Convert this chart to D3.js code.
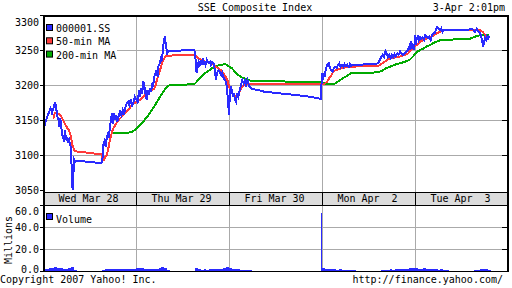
<!DOCTYPE html>
<html>
<head>
<meta charset="utf-8">
<script src="https://cdn.jsdelivr.net/npm/d3@7"></script>
<style>
  body { margin: 0; background: #fff; }
  svg { display: block; font-family: "DejaVu Sans Mono", monospace; font-size: 10px; }
  text { white-space: pre; }
</style>
</head>
<body>
<div id="chart"></div>
<script>
// time is counted in trading minutes from Wed 28 Mar 09:30, 330 minutes per day (09:30-15:00)
const days = ["Wed Mar 28", "Thu Mar 29", "Fri Mar 30", "Mon Apr  2", "Tue Apr  3"];
const yTicks = [3050, 3100, 3150, 3200, 3250, 3300];
const volTicks = [0, 20, 40, 60];

const sseIndex = [
  [1,3136],[4,3139],[11,3150],[15,3155],[22,3162],[27,3167],[32,3160],[37,3167],[43,3175],[46,3169],
  [51,3155],[56,3150],[58,3140],[60,3153],[64,3146],[67,3131],[72,3124],[75,3119],[78,3136],[82,3121],
  [86,3126],[90,3117],[93,3121],[97,3114],[99,3110],[102,3079],[104,3060],[105,3050],[108,3074],[111,3093],
  [115,3090],[120,3092],[143,3091],[167,3090],[191,3089],[208,3089],[212,3098],[215,3117],[219,3121],[222,3112],
  [226,3124],[230,3129],[233,3124],[238,3140],[241,3150],[245,3160],[247,3145],[251,3160],[254,3150],[259,3155],
  [264,3148],[269,3157],[273,3162],[278,3157],[283,3164],[287,3157],[292,3167],[297,3174],[302,3176],[306,3171],
  [311,3179],[316,3171],[320,3174],[326,3183],[332,3179],
  [336,3176],[341,3193],[344,3183],[348,3195],[352,3188],[356,3205],[359,3200],[364,3186],[368,3179],[371,3193],
  [376,3188],[380,3195],[383,3190],[388,3202],[391,3200],[395,3212],[400,3217],[403,3221],[407,3212],[409,3226],
  [414,3231],[418,3238],[421,3236],[426,3250],[428,3260],[430,3264],[433,3270],[435,3260],[439,3250],[441,3245],
  [445,3248],[480,3249],[510,3250],[537,3250],[539,3245],[543,3231],[545,3217],[549,3226],[552,3233],[556,3229],
  [560,3236],[563,3229],[567,3238],[570,3231],[574,3233],[577,3229],[581,3236],[584,3233],[589,3231],[593,3233],
  [596,3229],[601,3233],[606,3231],[610,3221],[614,3207],[617,3217],[622,3221],[627,3219],[632,3214],[636,3217],
  [641,3210],[646,3207],[649,3205],[653,3195],[656,3180],[660,3157],
  [663,3188],[667,3198],[671,3190],[674,3183],[678,3188],[681,3179],[685,3176],[688,3188],[693,3183],[698,3193],
  [703,3200],[707,3207],[712,3202],[717,3207],[721,3200],[726,3207],[731,3199],[736,3197],[740,3194],[764,3193],
  [788,3190],[823,3189],[859,3187],[894,3186],[930,3184],[953,3183],[986,3180],
  [990,3217],[992,3208],[996,3217],[999,3212],[1003,3221],[1005,3224],[1009,3229],[1014,3231],[1018,3224],[1023,3221],
  [1028,3219],[1032,3224],[1037,3226],[1042,3224],[1047,3229],[1051,3231],[1056,3226],[1061,3229],[1066,3226],[1070,3230],
  [1075,3227],[1080,3229],[1085,3226],[1089,3230],[1094,3227],[1099,3229],[1106,3229],[1129,3229],[1153,3230],[1177,3230],
  [1189,3231],[1196,3236],[1200,3240],[1205,3243],[1210,3240],[1215,3248],[1219,3245],[1224,3240],[1229,3243],[1234,3238],
  [1238,3243],[1243,3240],[1248,3244],[1252,3241],[1257,3245],[1262,3243],[1267,3248],[1271,3245],[1277,3243],[1283,3245],
  [1289,3248],[1295,3250],[1300,3255],[1303,3250],[1307,3262],[1310,3252],[1314,3257],[1317,3250],[1320,3271],[1322,3257],
  [1326,3267],[1330,3269],[1333,3264],[1338,3268],[1342,3266],[1347,3268],[1352,3264],[1356,3271],[1361,3269],[1366,3267],
  [1371,3269],[1376,3264],[1380,3271],[1385,3274],[1390,3274],[1394,3279],[1399,3283],[1404,3281],[1409,3279],[1413,3281],
  [1418,3276],[1423,3279],[1456,3278],[1491,3278],[1509,3279],[1521,3280],[1527,3279],[1533,3276],[1539,3280],[1545,3277],
  [1551,3274],[1555,3269],[1559,3262],[1562,3255],[1565,3260],[1568,3267],[1572,3264],[1575,3269],[1579,3266],[1582,3269],
  [1585,3268]
];

const ma50 = [
  [37,3152],[42,3160],[49,3160],[56,3159],[63,3156],[70,3151],[77,3145],[84,3140],[91,3136],[96,3131],
  [100,3124],[104,3114],[108,3110],[112,3106],[120,3105],[167,3103],[202,3101],[208,3101],[212,3095],[216,3093],
  [221,3098],[226,3100],[231,3107],[235,3117],[240,3126],[245,3133],[249,3138],[257,3143],[264,3148],[273,3152],
  [283,3156],[292,3160],[302,3164],[311,3169],[320,3173],[332,3176],[338,3177],[350,3181],[362,3186],[374,3190],
  [386,3193],[395,3195],[400,3200],[404,3207],[409,3214],[415,3221],[421,3229],[427,3236],[433,3240],[439,3242],
  [445,3242],[533,3243],[539,3244],[545,3240],[551,3238],[563,3236],[575,3233],[587,3232],[599,3231],[610,3227],
  [622,3224],[632,3221],[640,3217],[648,3212],[655,3206],[660,3198],[667,3191],[675,3187],[685,3184],[693,3188],
  [699,3192],[705,3196],[711,3199],[717,3201],[724,3202],[859,3202],[989,3201],[1000,3202],[1009,3205],[1016,3210],
  [1023,3214],[1030,3219],[1037,3221],[1047,3222],[1058,3224],[1070,3225],[1094,3226],[1129,3227],[1189,3227],[1200,3230],
  [1212,3233],[1224,3237],[1236,3238],[1254,3240],[1271,3241],[1283,3243],[1295,3245],[1307,3250],[1319,3255],[1326,3257],
  [1338,3262],[1349,3264],[1361,3266],[1373,3268],[1385,3270],[1397,3274],[1409,3276],[1421,3278],[1432,3278],[1539,3279],
  [1551,3278],[1560,3276],[1568,3272],[1576,3269],[1584,3267]
];

const ma200 = [
  [244,3131],[285,3131],[303,3132],[315,3133],[326,3136],[338,3140],[350,3145],[362,3151],[374,3157],[386,3164],
  [397,3171],[409,3179],[421,3187],[433,3194],[445,3199],[457,3200],[533,3201],[539,3202],[551,3207],[563,3212],
  [575,3217],[587,3220],[599,3224],[610,3226],[622,3228],[634,3229],[646,3230],[657,3227],[670,3224],[681,3219],
  [693,3214],[705,3211],[717,3209],[728,3207],[740,3206],[788,3206],[859,3205],[930,3204],[986,3204],[1000,3202],
  [1035,3202],[1047,3205],[1058,3208],[1070,3211],[1082,3214],[1094,3217],[1129,3217],[1183,3218],[1195,3219],[1206,3221],
  [1218,3224],[1230,3226],[1248,3229],[1266,3231],[1283,3233],[1301,3236],[1314,3241],[1326,3247],[1338,3250],[1349,3252],
  [1361,3255],[1373,3257],[1385,3260],[1397,3262],[1409,3264],[1421,3265],[1456,3265],[1480,3266],[1515,3266],[1527,3268],
  [1539,3270],[1551,3271],[1568,3272],[1584,3272]
];

// volume (millions) in 10-minute bars, one row per trading session
const volSessionStart = [0, 210, 330, 540, 660, 990, 1200, 1320, 1530];
const volSessionValues = [
  [2.2,2.0,2.6,2.4,3.3,2.8,3.0,2.2,1.8,2.4,3.2,1.0],
  [1.2,1.5,1.6,1.4,1.8,1.7,2.0,1.6,2.1,1.8,2.2,2.0],
  [2.6,2.4,2.8,2.0,1.8,1.6,1.8,2.2,2.6,3.2,2.4,1.0],
  [2.4,1.6,1.2,1.4,1.2,1.4,1.6,1.8,2.0,1.6,2.6,3.4],
  [2.6,2.0,1.6,1.4,1.2,1.2,1.0,0.8],
  [2.4,1.8,1.6,1.8,1.4,1.2,1.4,1.2,1.0,1.2,1.0,0.8],
  [1.0,1.2,1.0,1.4,1.2,1.4,1.6,1.4,1.6,2.0,2.4,2.6],
  [2.8,2.2,2.0,2.4,1.8,1.6,2.0,1.6,1.2,1.4,1.0,0.8],
  [1.0,1.2,1.4,2.2,1.6,1.2]
];
const volCloseSpike = [[985, 52.7]];

const width = 512, height = 288;
const svg = d3.select("#chart").append("svg")
  .attr("width", width).attr("height", height);

const x = d3.scaleLinear().domain([0, 1650]).range([43, 508]);
const y = d3.scaleLinear().domain([3050, 3300]).range([190, 15]);
const yv = d3.scaleLinear().domain([0, 60]).range([271, 205]);

const left = 45, right = 507;
const dayEdges = [330, 660, 990, 1320];
const gridColor = "#aaaaaa";
const blue = "#2a2aff", red = "#ff3a3a", green = "#00aa00";

// date band
svg.append("rect").attr("x", 43).attr("y", 192).attr("width", right - 43).attr("height", 13)
  .attr("fill", "#dcdcdc");

// horizontal grid
svg.append("g").selectAll("line").data(yTicks.filter(d => d > 3050 && d < 3300)).enter()
  .append("line")
  .attr("x1", left).attr("x2", right)
  .attr("y1", d => Math.round(y(d)) + 0.5).attr("y2", d => Math.round(y(d)) + 0.5)
  .attr("stroke", gridColor);
svg.append("g").selectAll("line").data(volTicks.filter(d => d > 0 && d < 60)).enter()
  .append("line")
  .attr("x1", left).attr("x2", right)
  .attr("y1", d => Math.round(yv(d)) + 0.5).attr("y2", d => Math.round(yv(d)) + 0.5)
  .attr("stroke", gridColor);

// vertical day lines
const vgrid = svg.append("g");
dayEdges.forEach(t => {
  const xx = Math.round(x(t)) + 0.5;
  vgrid.append("line").attr("x1", xx).attr("x2", xx).attr("y1", 16).attr("y2", 192).attr("stroke", gridColor);
  vgrid.append("line").attr("x1", xx).attr("x2", xx).attr("y1", 192).attr("y2", 205).attr("stroke", "#000");
  vgrid.append("line").attr("x1", xx).attr("x2", xx).attr("y1", 205).attr("y2", 271).attr("stroke", gridColor);
});

// legend background covers the grid
svg.append("rect").attr("x", 45).attr("y", 17).attr("width", 72).attr("height", 46).attr("fill", "#fff");

// price lines
svg.append("clipPath").attr("id", "plotclip")
  .append("rect").attr("x", left).attr("y", 16).attr("width", right - left).attr("height", 176);

const line = d3.line().x(d => x(d[0])).y(d => y(d[1]));
const plot = svg.append("g").attr("clip-path", "url(#plotclip)");
[[ma200, green], [ma50, red], [sseIndex, blue]].forEach(([data, color]) => {
  plot.append("path").datum(data)
    .attr("d", line)
    .attr("fill", "none")
    .attr("stroke", color)
    .attr("stroke-width", 2)
    .attr("shape-rendering", "crispEdges");
});

// volume bars
const volBars = [];
volSessionStart.forEach((s, i) => {
  volSessionValues[i].forEach((v, j) => volBars.push([s + j * 10, v]));
});
const barW = x(10) - x(0);
svg.append("g").attr("shape-rendering", "crispEdges").selectAll("rect").data(volBars).enter()
  .append("rect")
  .attr("x", d => x(d[0]))
  .attr("y", d => yv(d[1]))
  .attr("width", barW)
  .attr("height", d => yv(0) - yv(d[1]))
  .attr("fill", blue);
svg.append("g").attr("shape-rendering", "crispEdges").selectAll("rect").data(volCloseSpike).enter()
  .append("rect")
  .attr("x", d => x(d[0]))
  .attr("y", d => yv(d[1]))
  .attr("width", 1.5)
  .attr("height", d => yv(0) - yv(d[1]))
  .attr("fill", blue);

// frame
svg.append("rect").attr("x", 43).attr("y", 15).attr("width", 2).attr("height", 257).attr("fill", "#000");
svg.append("rect").attr("x", 507).attr("y", 15).attr("width", 2).attr("height", 257).attr("fill", "#000");
svg.append("rect").attr("x", 43).attr("y", 15).attr("width", 466).attr("height", 2).attr("fill", "#000");
[192.5, 205.5, 271.5].forEach(yy => {
  svg.append("line").attr("x1", 43).attr("x2", 509).attr("y1", yy).attr("y2", yy).attr("stroke", "#000");
});

// axes
const yAxis = svg.append("g").attr("transform", "translate(43,0)")
  .call(d3.axisLeft(y).tickValues(yTicks).tickSize(3).tickPadding(1).tickFormat(d3.format("d")));
yAxis.select(".domain").remove();
yAxis.selectAll("text").attr("font-family", "DejaVu Sans Mono").attr("font-size", 10).attr("fill", "#000")
  .attr("y", d => d === 3300 ? 7 : 0);

const vAxis = svg.append("g").attr("transform", "translate(43,0)")
  .call(d3.axisLeft(yv).tickValues(volTicks).tickSize(3).tickPadding(1).tickFormat(d3.format(".1f")));
vAxis.select(".domain").remove();
vAxis.selectAll("text").attr("font-family", "DejaVu Sans Mono").attr("font-size", 10).attr("fill", "#000")
  .attr("y", d => d === 60 ? 6 : d === 0 ? -2 : 0);

const rAxis = svg.append("g").attr("transform", "translate(507,0)")
  .call(d3.axisRight(y).tickValues([3100, 3150, 3200, 3250]).tickSize(-5).tickFormat(""));
rAxis.select(".domain").remove();
const rvAxis = svg.append("g").attr("transform", "translate(507,0)")
  .call(d3.axisRight(yv).tickValues([20, 40]).tickSize(-5).tickFormat(""));
rvAxis.select(".domain").remove();

// day labels
svg.append("g").selectAll("text").data(days).enter()
  .append("text")
  .attr("x", (d, i) => x(i * 330 + 165) - 1)
  .attr("y", 202)
  .attr("text-anchor", "middle")
  .text(d => d);

// legend
const legendItems = [["000001.SS", blue], ["50-min MA", red], ["200-min MA", green]];
const lg = svg.append("g");
legendItems.forEach(([name, color], i) => {
  lg.append("rect").attr("x", 46.5).attr("y", 24.5 + i * 13.3).attr("width", 6).attr("height", 6)
    .attr("fill", color).attr("stroke", "#000");
  lg.append("text").attr("x", 56).attr("y", 32 + i * 13.3).text(name);
});
svg.append("rect").attr("x", 46.5).attr("y", 213.5).attr("width", 6).attr("height", 6)
  .attr("fill", blue).attr("stroke", "#000");
svg.append("text").attr("x", 56).attr("y", 223).text("Volume");

// titles
svg.append("text").attr("x", 255).attr("y", 11).attr("text-anchor", "middle").text("SSE Composite Index");
svg.append("text").attr("x", 505).attr("y", 11).attr("text-anchor", "end").text("3-Apr 2:01pm");
svg.append("text").attr("transform", "translate(11.5,240) rotate(-90)").attr("text-anchor", "middle").text("Millions");
svg.append("text").attr("x", 0).attr("y", 283).text("Copyright 2007 Yahoo! Inc.");
svg.append("text").attr("x", 503).attr("y", 283).attr("text-anchor", "end").text("http://finance.yahoo.com/");
</script>
</body>
</html>
